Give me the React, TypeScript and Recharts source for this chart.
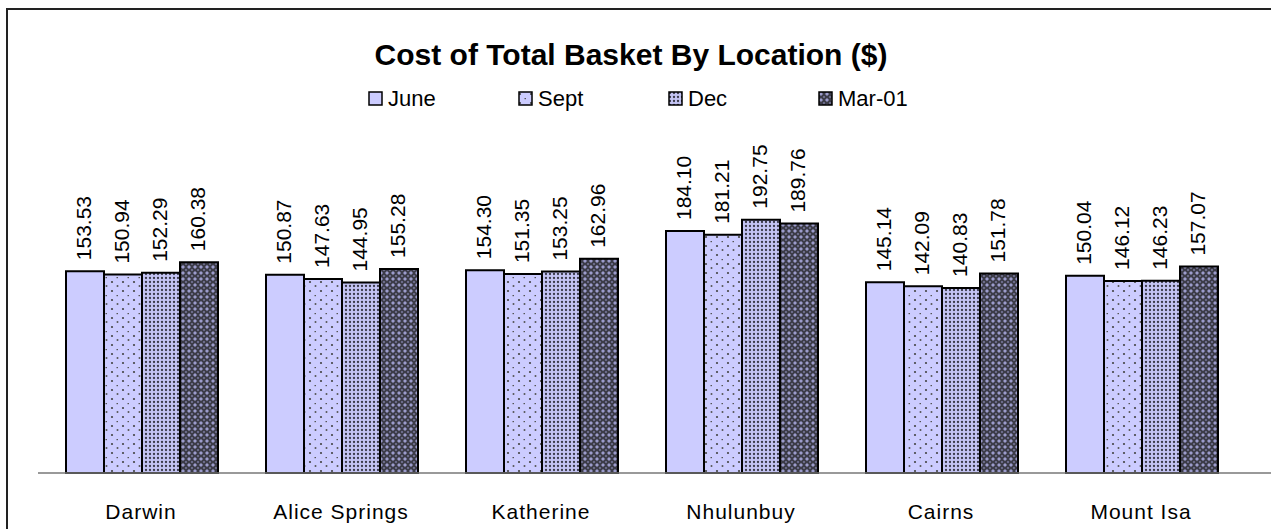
import { Bar, BarChart, LabelList, XAxis, YAxis } from "recharts";

const locations = ["Darwin", "Alice Springs", "Katherine", "Nhulunbuy", "Cairns", "Mount Isa"];
const june = [153.53, 150.87, 154.3, 184.1, 145.14, 150.04];
const sept = [150.94, 147.63, 151.35, 181.21, 142.09, 146.12];
const dec = [152.29, 144.95, 153.25, 192.75, 140.83, 146.23];
const mar01 = [160.38, 155.28, 162.96, 189.76, 151.78, 157.07];

const series = [
  { key: "june", name: "June", fill: "#ccccff" },
  { key: "sept", name: "Sept", fill: "url(#patSept)" },
  { key: "dec", name: "Dec", fill: "url(#patDec)" },
  { key: "mar01", name: "Mar-01", fill: "url(#patMar)" },
];

const data = locations.map((name, i) => ({
  name,
  june: june[i],
  sept: sept[i],
  dec: dec[i],
  mar01: mar01[i],
}));

const FONT = '"Liberation Sans", Arial, sans-serif';

function ValueLabel(props: any) {
  const { x, y, width, value } = props;
  const bx = Number(x) + Number(width) / 2 + 6;
  const by = Number(y) - 11;
  return (
    <text
      x={bx}
      y={by}
      transform={`rotate(-90, ${bx}, ${by})`}
      textAnchor="start"
      fontFamily={FONT}
      fontSize={21}
      fill="#000"
    >
      {Number(value).toFixed(2)}
    </text>
  );
}

function CategoryTick(props: any) {
  const { x, y, payload } = props;
  return (
    <text
      x={x}
      y={y + 38}
      textAnchor="middle"
      fontFamily={FONT}
      fontSize={21}
      letterSpacing={1}
      fill="#000"
    >
      {payload.value}
    </text>
  );
}

function ChartLegend() {
  return (
    <div
      style={{
        position: "absolute",
        top: 86,
        left: 368,
        display: "flex",
        fontFamily: FONT,
        fontSize: 22,
      }}
    >
      {series.map((s) => (
        <div key={s.key} style={{ width: 150, display: "flex", alignItems: "center" }}>
          <svg width={16} height={16} style={{ marginRight: 4 }}>
            <rect x={1} y={1} width={13} height={13} fill={s.fill} stroke="#000" strokeWidth={1.5} />
          </svg>
          <span>{s.name}</span>
        </div>
      ))}
    </div>
  );
}

export default function App() {
  return (
    <div
      style={{
        position: "absolute",
        left: 0,
        top: 0,
        width: 1271,
        height: 529,
        background: "#fff",
        overflow: "hidden",
      }}
    >
      <div
        style={{
          position: "absolute",
          left: 6,
          top: 8,
          width: 1300,
          height: 600,
          borderLeft: "2px solid #222",
          borderTop: "2px solid #222",
        }}
      />
      <div
        style={{
          position: "absolute",
          left: 0,
          width: 1262,
          top: 38,
          textAlign: "center",
          fontFamily: FONT,
          fontWeight: "bold",
          fontSize: 30,
          lineHeight: "34px",
        }}
      >
        Cost of Total Basket By Location ($)
      </div>
      <BarChart
        width={1271}
        height={529}
        data={data}
        margin={{ top: 13, right: 0, bottom: 0, left: 38 }}
        barCategoryGap={25}
        barGap={0}
        style={{ position: "absolute", left: 0, top: 0 }}
      >
        <defs>
          <pattern id="patSept" width={11} height={18} patternUnits="userSpaceOnUse">
            <rect width={11} height={18} fill="#ccccff" />
            <circle cx={2} cy={3} r={1.1} fill="#444" />
            <circle cx={2} cy={12} r={1.1} fill="#444" />
            <rect x={6.5} y={7} width={1.5} height={1.2} fill="#555" />
            <circle cx={7.5} cy={16} r={1} fill="#555" />
          </pattern>
          <pattern id="patDec" width={4} height={4} patternUnits="userSpaceOnUse">
            <rect width={4} height={4} fill="#c4c4f4" />
            <circle cx={2} cy={2} r={1.15} fill="#3a3a4a" />
          </pattern>
          <pattern id="patMar" width={6} height={6} patternUnits="userSpaceOnUse">
            <rect width={6} height={6} fill="#3c3c48" />
            <polygon points="3,1 5,3 3,5 1,3" fill="#9c9ccc" />
            <circle cx={0} cy={0} r={0.9} fill="#8080a8" />
            <circle cx={6} cy={0} r={0.9} fill="#8080a8" />
            <circle cx={0} cy={6} r={0.9} fill="#8080a8" />
            <circle cx={6} cy={6} r={0.9} fill="#8080a8" />
          </pattern>
        </defs>
        <XAxis
          dataKey="name"
          height={56}
          padding={{ left: 3, right: 30 }}
          tickLine={false}
          axisLine={{ stroke: "#777", strokeWidth: 1.5 }}
          tick={<CategoryTick />}
          interval={0}
        />
        <YAxis hide domain={[0, 350]} />
        {series.map((s) => (
          <Bar
            key={s.key}
            dataKey={s.key}
            name={s.name}
            fill={s.fill}
            stroke="#000"
            strokeWidth={2}
            isAnimationActive={false}
          >
            <LabelList dataKey={s.key} content={<ValueLabel />} />
          </Bar>
        ))}
      </BarChart>
      <ChartLegend />
    </div>
  );
}
